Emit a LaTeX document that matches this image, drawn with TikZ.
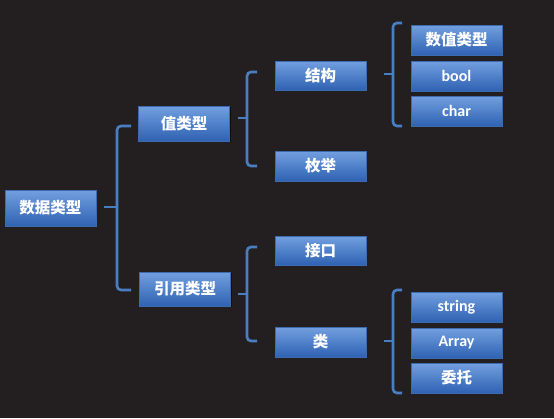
\documentclass[tikz,border=0pt]{standalone}
\usepackage{fontspec}
\setmainfont{Carlito}
\newfontfamily\cjk{Noto Sans CJK SC}
\usetikzlibrary{shadows}
\definecolor{bg}{HTML}{231F20}
\definecolor{boxtop}{HTML}{729FE0}
\definecolor{boxbot}{HTML}{2F62B2}
\definecolor{boxline}{HTML}{3D6BB0}
\definecolor{brk}{HTML}{4A7EC2}
\tikzset{
  px/.style={x=1pt,y=-1pt},
  tbox/.style={draw=boxline, line width=0.8pt, top color=boxtop, bottom color=boxbot,
    minimum width=91pt, minimum height=30pt, inner sep=0pt, text=white,
    font=\fontsize{16}{16}\selectfont\bfseries,
    drop shadow={shadow xshift=1.2pt, shadow yshift=-1.2pt, opacity=0.6, fill=black}},
  cn/.style={font=\cjk\fontsize{15.5}{16}\selectfont\bfseries},
  brace/.style={draw=brk, line width=2.6pt, rounded corners=4pt}
}
\begin{document}
\begin{tikzpicture}[px]
\fill[bg] (0,0) rectangle (554,418);
\useasboundingbox (0,0) rectangle (554,418);
% level 0
\node[tbox,cn, minimum height=36pt] (root) at (50.5,208) {数据类型};
% level 1
\node[tbox,cn, minimum height=35pt] (val) at (184,123.5) {值类型};
\node[tbox,cn, minimum height=34pt] (ref) at (185,289) {引用类型};
% level 2
\node[tbox,cn, minimum height=29pt] (st) at (320.5,75.5) {结构};
\node[tbox,cn] (en) at (320.5,166) {枚举};
\node[tbox,cn, minimum height=29pt] (if) at (320.5,250.5) {接口};
\node[tbox,cn] (cl) at (320.5,342) {类};
% level 3
\node[tbox,cn] (num) at (456.5,40) {数值类型};
\node[tbox] (bool) at (456.5,76) {bool};
\node[tbox] (char) at (456.5,111) {char};
\node[tbox] (str) at (456.5,307) {string};
\node[tbox] (arr) at (456.5,343) {Array};
\node[tbox,cn] (del) at (456.5,378) {委托};
% braces
\coordinate (b1) at (117,207);
\draw[brace] (131,126) -- (117,126) -- (117,290) -- (131,290);
\draw[brk, line width=2.6pt] (104,207) -- (b1);
\coordinate (b2) at (247,118);
\draw[brace] (257,72) -- (247,72) -- (247,166) -- (257,166);
\draw[brk, line width=2.6pt] (238,118) -- (b2);
\coordinate (b3) at (247,294);
\draw[brace] (257,247) -- (247,247) -- (247,341) -- (257,341);
\draw[brk, line width=2.6pt] (238,294) -- (b3);
\coordinate (b4) at (393,74);
\draw[brace] (402,23) -- (393,23) -- (393,126) -- (402,126);
\draw[brk, line width=2.6pt] (384,74) -- (b4);
\coordinate (b5) at (393,341);
\draw[brace] (402,290) -- (393,290) -- (393,393) -- (402,393);
\draw[brk, line width=2.6pt] (384,341) -- (b5);
\end{tikzpicture}
\end{document}
